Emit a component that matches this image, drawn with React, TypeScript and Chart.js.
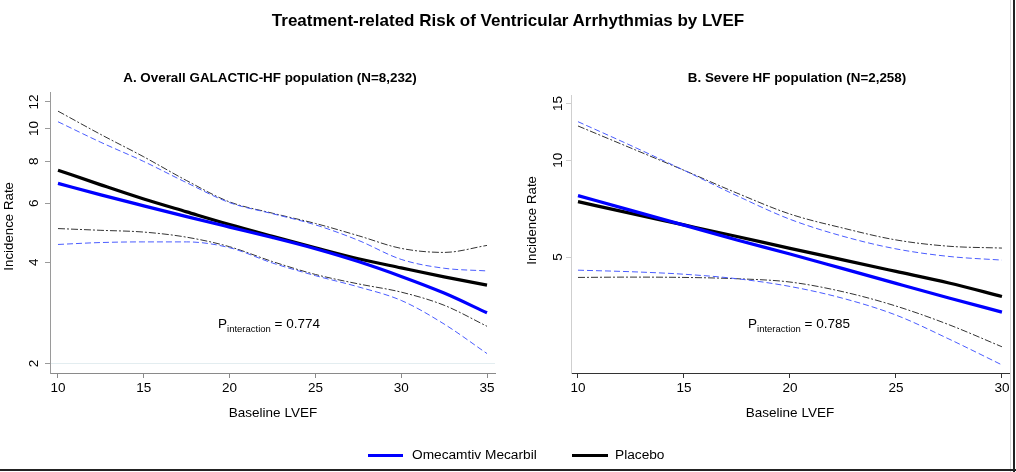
import React, { useEffect, useRef } from "react";
import { Chart, registerables } from "chart.js";

Chart.register(...registerables);

// ---------- Data ----------
// Panel A: Overall GALACTIC-HF population
const lvefA = [10, 12.5, 15, 17.5, 20, 22.5, 25, 27.5, 30, 32.5, 35];
const omA = [6.87, 6.35, 5.89, 5.47, 5.09, 4.74, 4.39, 4.02, 3.63, 3.24, 2.83];
const omALo = [4.52, 4.58, 4.6, 4.6, 4.42, 3.98, 3.65, 3.38, 3.08, 2.62, 2.14];
const omAHi = [10.48, 9.1, 7.98, 6.9, 6.02, 5.58, 5.17, 4.65, 4.08, 3.84, 3.77];
const plA = [7.52, 6.8, 6.17, 5.65, 5.18, 4.78, 4.42, 4.1, 3.85, 3.62, 3.42];
const plALo = [5.04, 4.98, 4.92, 4.75, 4.45, 4.02, 3.68, 3.45, 3.26, 2.98, 2.58];
const plAHi = [11.27, 9.6, 8.24, 7.0, 6.05, 5.6, 5.22, 4.8, 4.4, 4.28, 4.49];

// Panel B: Severe HF population
const lvefB = [10, 12.5, 15, 17.5, 20, 22.5, 25, 27.5, 30];
const omB = [7.76, 6.98, 6.28, 5.65, 5.11, 4.6, 4.14, 3.73, 3.37];
const omBLo = [4.55, 4.5, 4.42, 4.28, 4.05, 3.72, 3.3, 2.78, 2.31];
const omBHi = [13.17, 11.1, 9.3, 7.75, 6.55, 5.8, 5.3, 5.02, 4.89];
const plB = [7.43, 6.83, 6.29, 5.79, 5.32, 4.9, 4.51, 4.15, 3.77];
const plBLo = [4.32, 4.33, 4.32, 4.28, 4.18, 3.9, 3.52, 3.08, 2.63];
const plBHi = [12.77, 10.9, 9.3, 7.9, 6.8, 6.15, 5.65, 5.4, 5.33];

const yTicksA = [2, 4, 6, 8, 10, 12];
const yTicksB = [5, 10, 15];
const xTicksA = [10, 15, 20, 25, 30, 35];
const xTicksB = [10, 15, 20, 25, 30];

const pA = "0.774";
const pB = "0.785";
const seriesNames = ["Omecamtiv Mecarbil", "Placebo"];

// ---------- Styling ----------
const FONT = "'Liberation Sans', Arial, Helvetica, sans-serif";
const BLUE = "#0000ff";
const BLUE_CI = "#4a5cff";
const BLACK = "#000000";
const BLACK_CI = "#333333";
const W = 1016;
const H = 472;

interface PanelCfg {
  canvasLeft: number;
  canvasWidth: number;
  areaLeft: number;
  areaRight: number;
  areaTop: number;
  areaBottom: number;
  xMin: number;
  xMax: number;
  yMin: number;
  yMax: number;
  xs: number[];
  om: number[];
  omLo: number[];
  omHi: number[];
  pl: number[];
  plLo: number[];
  plHi: number[];
  xTicks: number[];
  yTicks: number[];
  yAxisColor: string;
  xAxisColor: string;
  gridAt: number | null;
  yLabelX: number;
}

const pts = (xs: number[], ys: number[]) => xs.map((x, i) => ({ x, y: ys[i] }));

function Panel({ cfg }: { cfg: PanelCfg }) {
  const ref = useRef<HTMLCanvasElement | null>(null);
  useEffect(() => {
    if (!ref.current) return;
    const xAxisH = 30;
    const yAxisW = cfg.areaLeft - cfg.canvasLeft;
    const ciBase = {
      borderWidth: 1,
      pointRadius: 0,
      fill: false,
      cubicInterpolationMode: "monotone" as const,
    };
    const yLabelPlugin = {
      id: "yLabels",
      afterDraw(chart: any) {
        const s = chart.scales.y;
        const ctx = chart.ctx;
        ctx.save();
        ctx.fillStyle = "#000";
        ctx.font = `13.5px ${FONT}`;
        ctx.textAlign = "center";
        ctx.textBaseline = "middle";
        for (const t of s.ticks) {
          const y = s.getPixelForValue(t.value);
          ctx.save();
          ctx.translate(cfg.yLabelX - cfg.canvasLeft, y);
          ctx.rotate(-Math.PI / 2);
          ctx.fillText(String(t.value), 0, 0);
          ctx.restore();
        }
        ctx.restore();
      },
    };
    const chart = new Chart(ref.current, {
      type: "line",
      data: {
        datasets: [
          {
            label: seriesNames[0],
            data: pts(cfg.xs, cfg.om),
            borderColor: BLUE,
            borderWidth: 3.2,
            pointRadius: 0,
            cubicInterpolationMode: "monotone",
          },
          {
            label: seriesNames[1],
            data: pts(cfg.xs, cfg.pl),
            borderColor: BLACK,
            borderWidth: 3.2,
            pointRadius: 0,
            cubicInterpolationMode: "monotone",
          },
          { ...ciBase, label: "om hi", data: pts(cfg.xs, cfg.omHi), borderColor: BLUE_CI, borderDash: [6, 3] },
          { ...ciBase, label: "om lo", data: pts(cfg.xs, cfg.omLo), borderColor: BLUE_CI, borderDash: [6, 3] },
          { ...ciBase, label: "pl hi", data: pts(cfg.xs, cfg.plHi), borderColor: BLACK_CI, borderDash: [7, 2, 2, 2] },
          { ...ciBase, label: "pl lo", data: pts(cfg.xs, cfg.plLo), borderColor: BLACK_CI, borderDash: [7, 2, 2, 2] },
        ] as any,
      },
      options: {
        responsive: false,
        animation: false,
        devicePixelRatio: 1,
        layout: {
          padding: {
            left: 0,
            top: cfg.areaTop,
            right: cfg.canvasLeft + cfg.canvasWidth - cfg.areaRight,
            bottom: H - cfg.areaBottom - xAxisH,
          },
        },
        plugins: {
          legend: { display: false },
          title: { display: false },
          tooltip: { enabled: false },
        },
        scales: {
          x: {
            type: "linear",
            min: cfg.xMin,
            max: cfg.xMax,
            afterBuildTicks: (s: any) => {
              s.ticks = cfg.xTicks.map((v) => ({ value: v }));
            },
            afterFit: (s: any) => {
              s.height = xAxisH;
              s.paddingLeft = 0;
              s.paddingRight = 0;
            },
            ticks: {
              autoSkip: false,
              maxRotation: 0,
              minRotation: 0,
              color: "#000",
              padding: 2,
              font: { family: FONT, size: 13.5 },
              callback: (v: any) => String(v),
            },
            grid: {
              drawOnChartArea: false,
              drawTicks: true,
              tickLength: 5,
              tickColor: cfg.xAxisColor,
              color: cfg.xAxisColor,
            },
            border: { display: true, color: cfg.xAxisColor, width: 1 },
          },
          y: {
            type: "logarithmic",
            min: cfg.yMin,
            max: cfg.yMax,
            afterBuildTicks: (s: any) => {
              s.ticks = cfg.yTicks.map((v) => ({ value: v }));
            },
            afterFit: (s: any) => {
              s.width = yAxisW;
              s.paddingTop = 0;
              s.paddingBottom = 0;
            },
            ticks: { display: false },
            grid: {
              drawOnChartArea: true,
              drawTicks: true,
              tickLength: 5,
              tickColor: cfg.yAxisColor,
              color: (c: any) =>
                cfg.gridAt !== null && c.tick && c.tick.value === cfg.gridAt ? "#e3edf0" : "rgba(0,0,0,0)",
            },
            border: { display: true, color: cfg.yAxisColor, width: 1 },
          },
        },
      } as any,
      plugins: [yLabelPlugin],
    });
    return () => chart.destroy();
  }, [cfg]);
  return (
    <canvas
      ref={ref}
      width={cfg.canvasWidth}
      height={H}
      style={{ position: "absolute", left: cfg.canvasLeft, top: 0, width: cfg.canvasWidth, height: H }}
    />
  );
}

const cfgA: PanelCfg = {
  canvasLeft: 0,
  canvasWidth: 505,
  areaLeft: 50,
  areaRight: 495,
  areaTop: 92,
  areaBottom: 373,
  xMin: 9.534,
  xMax: 35.466,
  yMin: 1.873,
  yMax: 12.85,
  xs: lvefA,
  om: omA,
  omLo: omALo,
  omHi: omAHi,
  pl: plA,
  plLo: plALo,
  plHi: plAHi,
  xTicks: xTicksA,
  yTicks: yTicksA,
  yAxisColor: "#9a9a9a",
  xAxisColor: "#8a8a8a",
  gridAt: 2,
  yLabelX: 34,
};

const cfgB: PanelCfg = {
  canvasLeft: 505,
  canvasWidth: 511,
  areaLeft: 571,
  areaRight: 1010,
  areaTop: 95,
  areaBottom: 373,
  xMin: 9.67,
  xMax: 30.38,
  yMin: 2.18,
  yMax: 15.94,
  xs: lvefB,
  om: omB,
  omLo: omBLo,
  omHi: omBHi,
  pl: plB,
  plLo: plBLo,
  plHi: plBHi,
  xTicks: xTicksB,
  yTicks: yTicksB,
  yAxisColor: "#cfcfcf",
  xAxisColor: "#333333",
  gridAt: null,
  yLabelX: 558,
};

const centered = (x: number, y: number, extra: React.CSSProperties = {}): React.CSSProperties => ({
  position: "absolute",
  left: x,
  top: y,
  transform: "translate(-50%, -50%)",
  whiteSpace: "nowrap",
  lineHeight: 1,
  ...extra,
});

function PText({ x, y, p }: { x: number; y: number; p: string }) {
  return (
    <div style={{ position: "absolute", left: x, top: y, fontSize: 13.5, whiteSpace: "nowrap", lineHeight: 1 }}>
      P<span style={{ fontSize: 9.5, position: "relative", top: 4 }}>interaction</span> = {p}
    </div>
  );
}

function VLabel({ x, y, text }: { x: number; y: number; text: string }) {
  return (
    <div
      style={{
        position: "absolute",
        left: x - 10,
        top: y - 60,
        width: 20,
        height: 120,
        display: "flex",
        alignItems: "center",
        justifyContent: "center",
      }}
    >
      <span
        style={{
          writingMode: "vertical-rl",
          transform: "rotate(180deg)",
          fontSize: 13.3,
          fontWeight: "normal",
          whiteSpace: "nowrap",
          lineHeight: 1,
          color: "#000",
        }}
      >
        {text}
      </span>
    </div>
  );
}

export default function App() {
  return (
    <div
      style={{
        position: "relative",
        width: W,
        height: H,
        background: "#fff",
        fontFamily: FONT,
        color: "#000",
        overflow: "hidden",
      }}
    >
      <style>{"body{margin:0;background:#fff}"}</style>
      <Panel cfg={cfgA} />
      <Panel cfg={cfgB} />
      <div style={centered(508, 20, { fontSize: 17, fontWeight: "bold" })}>
        Treatment-related Risk of Ventricular Arrhythmias by LVEF
      </div>
      <div style={centered(270, 78, { fontSize: 13.4, fontWeight: "bold" })}>
        A. Overall GALACTIC-HF population (N=8,232)
      </div>
      <div style={centered(797, 78, { fontSize: 13.4, fontWeight: "bold" })}>
        B. Severe HF population (N=2,258)
      </div>
      <VLabel x={9} y={226} text="Incidence Rate" />
      <VLabel x={532} y={220} text="Incidence Rate" />
      <div style={centered(273, 413, { fontSize: 13.5 })}>Baseline LVEF</div>
      <div style={centered(790, 413, { fontSize: 13.5 })}>Baseline LVEF</div>
      <PText x={218} y={317} p={pA} />
      <PText x={748} y={317} p={pB} />
      {/* legend */}
      <div style={{ position: "absolute", left: 368, top: 454, width: 35, height: 3, background: BLUE }} />
      <div style={{ position: "absolute", left: 412, top: 448, fontSize: 13.7, lineHeight: 1 }}>{seriesNames[0]}</div>
      <div style={{ position: "absolute", left: 572, top: 454, width: 36, height: 3, background: BLACK }} />
      <div style={{ position: "absolute", left: 615, top: 448, fontSize: 13.7, lineHeight: 1 }}>{seriesNames[1]}</div>
      {/* frame */}
      <div style={{ position: "absolute", left: 1010, top: 0, width: 1, height: H, background: "#d6d6d6" }} />
      <div style={{ position: "absolute", left: 1013, top: 0, width: 2, height: H, background: "#222" }} />
      <div style={{ position: "absolute", left: 0, top: 469, width: W, height: 2, background: "#222" }} />
    </div>
  );
}
